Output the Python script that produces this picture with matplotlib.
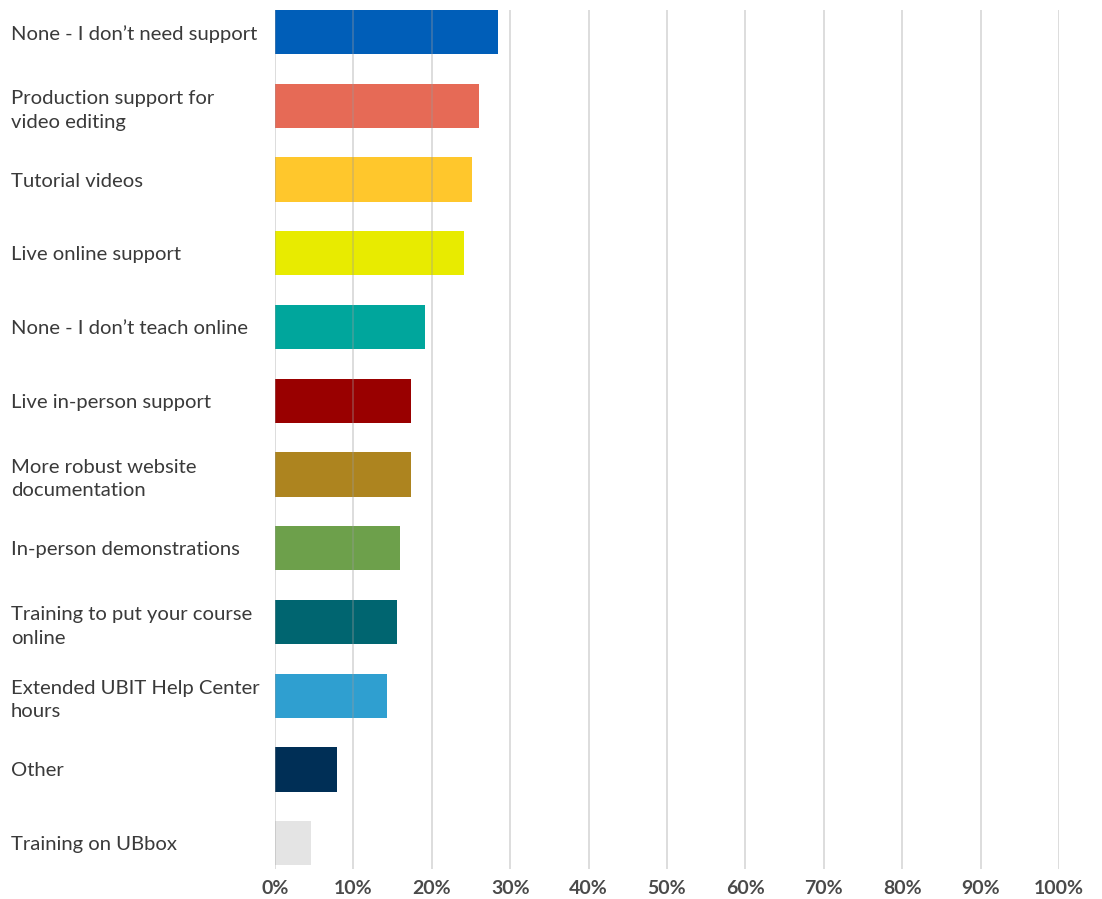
import matplotlib
matplotlib.use("Agg")
import matplotlib.pyplot as plt

# Survey answers, top to bottom, with the share of respondents (%)
categories = [
    "None - I don\u2019t need support",
    "Production support for\nvideo editing",
    "Tutorial videos",
    "Live online support",
    "None - I don\u2019t teach online",
    "Live in-person support",
    "More robust website\ndocumentation",
    "In-person demonstrations",
    "Training to put your course\nonline",
    "Extended UBIT Help Center\nhours",
    "Other",
    "Training on UBbox",
]
shares = [28.4, 26.0, 25.1, 24.1, 19.1, 17.3, 17.3, 15.9, 15.6, 14.3, 7.9, 4.6]
bar_colors = [
    "#005EB8", "#E66A56", "#FFC72C", "#E8EB00", "#00A69C", "#990000",
    "#AD841F", "#6DA04B", "#006570", "#2F9FD0", "#002F56", "#E4E4E4",
]
x_ticks = list(range(0, 101, 10))

plt.rcParams["font.family"] = ["Lato", "DejaVu Sans"]

fig = plt.figure(figsize=(11.02, 8.99), dpi=100)
ax = fig.add_axes([0.2495, 0.0334, 0.7115, 0.9555])

y_pos = list(range(len(categories)))
ax.barh(y_pos, shares, color=bar_colors, height=0.6, zorder=1)

ax.set_xlim(0, 100)
ax.set_ylim(11.35, -0.3)

# light grid drawn over the bars
for x in x_ticks:
    ax.axvline(x, color="#9a9a9a", alpha=0.4, lw=1.2, zorder=3)

ax.set_xticks(x_ticks)
ax.set_xticklabels([f"{v}%" for v in x_ticks], fontsize=14, fontweight="bold",
                   color="#4a4a4a")
ax.set_yticks(y_pos)
ax.set_yticklabels(categories, fontsize=14.6, color="#3a3a3a", ha="left",
                   linespacing=1.45)
ax.tick_params(axis="y", length=0, pad=190)
ax.tick_params(axis="x", length=0, pad=8)

for side in ["top", "right", "left", "bottom"]:
    ax.spines[side].set_visible(False)

fig.savefig("out.png", dpi=100)
plt.close(fig)
